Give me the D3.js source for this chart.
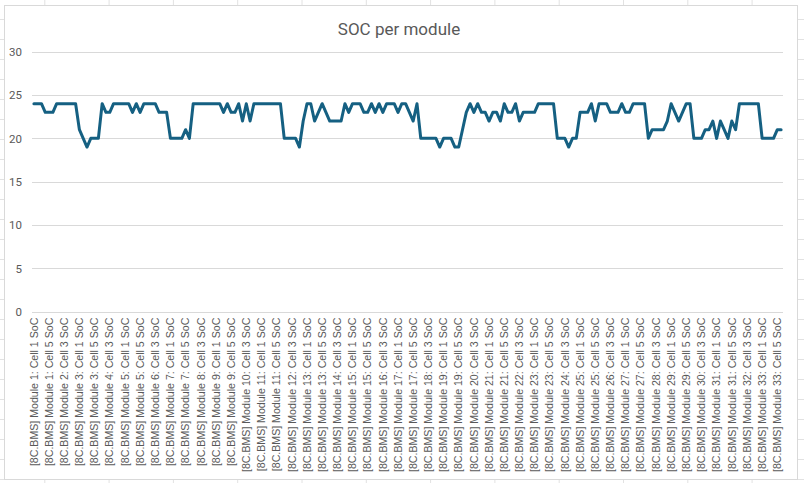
<!DOCTYPE html>
<html>
<head>
<meta charset="utf-8">
<script src="https://cdn.jsdelivr.net/npm/d3@7/dist/d3.min.js"></script>
<style>
  html, body { margin: 0; padding: 0; background: #ffffff; }
  svg { display: block; }
</style>
</head>
<body>
<svg id="chart" width="804" height="483"></svg>
<script>
// ---------- data ----------
const title = "SOC per module";
const moduleCount = 33;
const cellsPerModule = 6;
const yTicks = [0, 5, 10, 15, 20, 25, 30];
const categories = [];
for (let m = 1; m <= moduleCount; m++) {
  for (let c = 1; c <= cellsPerModule; c++) {
    categories.push(`[8C.BMS] Module ${m}: Cell ${c} SoC`);
  }
}
const socValues = [
  24,24,24,23,23,23,24,24,24,24,24,24,21,20,19,20,20,20,24,23,
  23,24,24,24,24,24,23,24,23,24,24,24,24,23,23,23,20,20,20,20,
  21,20,24,24,24,24,24,24,24,24,23,24,23,23,24,22,24,22,24,24,
  24,24,24,24,24,24,20,20,20,20,19,22,24,24,22,23,24,23,22,22,
  22,22,24,23,24,24,24,23,23,24,23,24,23,24,24,24,23,24,24,23,
  22,24,20,20,20,20,20,19,20,20,20,19,19,21,23,24,23,24,23,23,
  22,23,23,22,24,23,23,24,22,23,23,23,23,24,24,24,24,24,20,20,
  20,19,20,20,23,23,23,24,22,24,24,24,23,23,23,24,23,23,24,24,
  24,24,20,21,21,21,21,22,24,23,22,23,24,24,20,20,20,21,21,22,
  20,22,21,20,22,21,24,24,24,24,24,24,20,20,20,20,21,21
];
const labelStep = 4;

// ---------- drawing ----------
const W = 804, H = 483;
const svg = d3.select("#chart");
const textColor = "#595959";
const gridColor = "#d9d9d9";

// spreadsheet background grid
const sheet = svg.append("g");
const colXs = d3.range(-20, W, 64.3);
const rowYs = d3.range(-1, H, 20.0);
sheet.selectAll("line.c").data(colXs).join("line")
  .attr("x1", d => d + 0.5).attr("x2", d => d + 0.5)
  .attr("y1", 0).attr("y2", H)
  .attr("stroke", "#e2e2e2").attr("stroke-width", 1);
sheet.selectAll("line.r").data(rowYs).join("line")
  .attr("x1", 0).attr("x2", W)
  .attr("y1", d => d + 0.5).attr("y2", d => d + 0.5)
  .attr("stroke", "#e2e2e2").attr("stroke-width", 1);

// chart object box
svg.append("rect")
  .attr("x", 4.5).attr("y", 5.5).attr("width", 793).attr("height", 474)
  .attr("fill", "#ffffff").attr("stroke", "#d9d9d9");

const plot = { left: 32, right: 783, top: 51.7, bottom: 311.7 };

const x = d3.scaleBand()
  .domain(d3.range(categories.length))
  .range([plot.left, plot.right])
  .padding(0);
const y = d3.scaleLinear().domain([0, 30]).range([plot.bottom, plot.top]);

// title
svg.append("text")
  .attr("x", 399).attr("y", 31)
  .attr("text-anchor", "middle")
  .attr("dominant-baseline", "middle")
  .attr("font-family", "Roboto, 'Open Sans', sans-serif")
  .attr("font-size", 17)
  .attr("fill", textColor)
  .text(title);

// horizontal gridlines
svg.append("g").selectAll("line").data(yTicks).join("line")
  .attr("x1", plot.left).attr("x2", plot.right)
  .attr("y1", d => Math.round(y(d)) + 0.5).attr("y2", d => Math.round(y(d)) + 0.5)
  .attr("stroke", gridColor).attr("stroke-width", 1);

// y axis labels
const yAxis = d3.axisLeft(y).tickValues(yTicks).tickSize(0).tickPadding(0);
const gy = svg.append("g").attr("transform", `translate(${plot.left - 10},0)`).call(yAxis);
gy.select(".domain").remove();
gy.selectAll("text")
  .attr("font-family", "Roboto, 'Open Sans', sans-serif")
  .attr("font-size", 11.5)
  .attr("fill", textColor);

// x axis with rotated labels
const xAxis = d3.axisBottom(x)
  .tickValues(d3.range(0, categories.length, labelStep))
  .tickFormat(i => categories[i])
  .tickSize(0).tickPadding(0);
const gx = svg.append("g").attr("transform", `translate(0,${plot.bottom})`).call(xAxis);
gx.select(".domain").remove();
gx.selectAll("text")
  .attr("transform", "rotate(-90)")
  .attr("text-anchor", "end")
  .attr("dy", "0.35em")
  .attr("x", -6)
  .attr("y", 0)
  .attr("font-family", "'Liberation Sans', Arial, sans-serif")
  .attr("font-size", 10.6)
  .attr("fill", textColor);

// line
const line = d3.line()
  .x((d, i) => x(i) + x.bandwidth() / 2)
  .y(d => y(d))
  .curve(d3.curveLinear);
svg.append("path")
  .datum(socValues)
  .attr("d", line)
  .attr("fill", "none")
  .attr("stroke", "#156082")
  .attr("stroke-width", 3)
  .attr("stroke-linejoin", "round")
  .attr("stroke-linecap", "round");
</script>
</body>
</html>
